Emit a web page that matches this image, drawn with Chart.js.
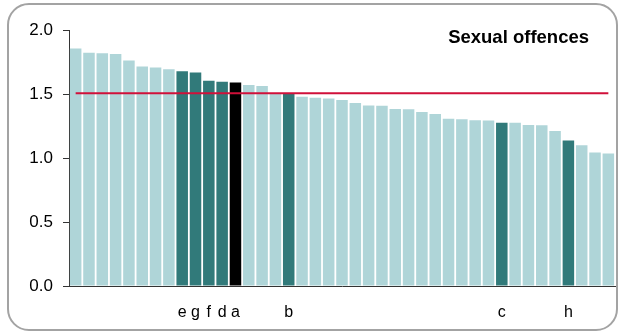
<!DOCTYPE html>
<html>
<head>
<meta charset="utf-8">
<script src="https://cdn.jsdelivr.net/npm/chart.js@4.4.1/dist/chart.umd.min.js"></script>
<style>
  html, body { margin: 0; padding: 0; background: #ffffff; }
  #wrap { position: relative; width: 618px; height: 332px; overflow: hidden; }
  #frame { position: absolute; left: 7px; top: 3px; width: 607px; height: 324px; border: 2px solid #a3a3a3; border-radius: 22px; box-sizing: content-box; }
  canvas { position: absolute; left: 0; top: 0; }
</style>
</head>
<body>
<div id="wrap">
  <div id="frame"></div>
  <canvas id="c" width="618" height="332"></canvas>
</div>
<script>
const categories = ["","","","","","","","","e","g","f","d","a","","","","b","","","","","","","","","","","","","","","","c","","","","","h","","",""];
const values = [1.855,1.823,1.819,1.813,1.761,1.714,1.707,1.694,1.678,1.668,1.603,1.595,1.590,1.570,1.562,1.502,1.500,1.479,1.471,1.465,1.453,1.429,1.411,1.409,1.383,1.381,1.359,1.344,1.307,1.302,1.294,1.292,1.276,1.276,1.258,1.256,1.211,1.136,1.100,1.043,1.035];
const barKinds = ["l","l","l","l","l","l","l","l","d","d","d","d","k","l","l","l","d","l","l","l","l","l","l","l","l","l","l","l","l","l","l","l","d","l","l","l","l","d","l","l","l"];
const averageValue = 1.505;
const yTicks = [0, 0.5, 1.0, 1.5, 2.0];
const titleText = "Sexual offences";

const kindColors = { l: "#afd5d8", d: "#317a7a", k: "#000000" };
const barColors = barKinds.map(k => kindColors[k]);
const averageLine = values.map(() => averageValue);

const titlePlugin = {
  id: "insideTitle",
  afterDraw(chart) {
    const ctx = chart.ctx;
    ctx.save();
    ctx.font = "bold 18.5px 'Liberation Sans', Arial, sans-serif";
    ctx.fillStyle = "#000000";
    ctx.textAlign = "right";
    ctx.textBaseline = "alphabetic";
    ctx.fillText(titleText, 589, 43);
    ctx.restore();
  }
};

new Chart(document.getElementById("c"), {
  data: {
    labels: categories,
    datasets: [
      {
        type: "line",
        data: averageLine,
        borderColor: "#d0103a",
        borderWidth: 2,
        pointRadius: 0,
        fill: false,
        order: 0
      },
      {
        type: "bar",
        data: values,
        backgroundColor: barColors,
        borderWidth: 0,
        categoryPercentage: 1.0,
        barPercentage: 0.865,
        order: 1
      }
    ]
  },
  options: {
    responsive: false,
    animation: false,
    devicePixelRatio: 1,
    layout: { autoPadding: false, padding: { left: 0, right: 3, top: 30, bottom: 0 } },
    plugins: { legend: { display: false }, tooltip: { enabled: false }, title: { display: false } },
    scales: {
      x: {
        afterFit(scale) { scale.height = 46; scale.paddingLeft = 0; scale.paddingRight = 0; },
        grid: { display: false, drawTicks: false },
        border: { display: true, color: "#333333", width: 1 },
        ticks: {
          autoSkip: false,
          maxRotation: 0,
          padding: 17,
          color: "#000000",
          font: { family: "'Liberation Sans', Arial, sans-serif", size: 16 }
        }
      },
      y: {
        min: 0,
        max: 2,
        afterFit(scale) { scale.width = 69; },
        afterBuildTicks(scale) { scale.ticks = yTicks.map(v => ({ value: v })); },
        grid: { drawOnChartArea: false, drawTicks: true, tickLength: 6, color: "#333333" },
        border: { display: true, color: "#333333", width: 1 },
        ticks: {
          padding: 10,
          color: "#000000",
          font: { family: "'Liberation Sans', Arial, sans-serif", size: 17 },
          callback: v => Number(v).toFixed(1)
        }
      }
    }
  },
  plugins: [titlePlugin]
});
</script>
</body>
</html>
